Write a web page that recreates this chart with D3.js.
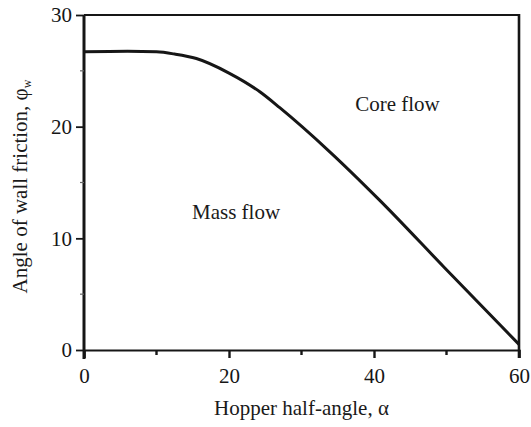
<!DOCTYPE html>
<html>
<head>
<meta charset="utf-8">
<script src="https://cdn.jsdelivr.net/npm/d3@7"></script>
<style>
  html, body { margin: 0; padding: 0; background: #fff; }
  svg { display: block; }
  text { font-family: "Liberation Serif", "Times New Roman", serif; fill: #1a1a1a; }
</style>
</head>
<body>
<svg id="chart" width="531" height="427"></svg>
<script>
// Limiting wall friction angle for mass flow vs. hopper half-angle
const halfAngle = [0, 6, 10, 12.5, 15.5, 20, 24.3, 27, 33.9, 40.8, 49.6, 60];
const wallFriction = [26.7, 26.75, 26.7, 26.5, 26.1, 24.8, 23.1, 21.7, 17.75, 13.4, 7.46, 0.5];

const xMajorTicks = [0, 20, 40, 60];
const xMinorTicks = [10, 30, 50];
const yMajorTicks = [0, 10, 20, 30];
const yMinorTicks = [5, 15, 25];

const regionLabels = ["Core flow", "Mass flow"];
const regionPos = [[37.4, 21.4], [14.9, 11.7]];

const xTitle = "Hopper half-angle, \u03b1";
const yTitle = "Angle of wall friction, \u03c6";
const yTitleSub = "w";

const svg = d3.select("#chart");
const x = d3.scaleLinear().domain([0, 60]).range([84, 519]);
const y = d3.scaleLinear().domain([0, 30]).range([350, 15]);

const ink = "#161616";

// frame: top and right edges
svg.append("line").attr("x1", x(0)).attr("x2", x(60)).attr("y1", y(30)).attr("y2", y(30))
  .attr("stroke", ink).attr("stroke-width", 1.8);
svg.append("line").attr("x1", x(60)).attr("x2", x(60)).attr("y1", y(30) - 1).attr("y2", y(0) + 8)
  .attr("stroke", ink).attr("stroke-width", 2.6);

// bottom axis
const xAxis = d3.axisBottom(x).tickValues(xMajorTicks).tickSize(8).tickPadding(10).tickFormat(d3.format("d"));
const gx = svg.append("g").attr("transform", `translate(0,${y(0)})`).call(xAxis);
gx.select(".domain").attr("stroke", ink).attr("stroke-width", 2);
gx.selectAll(".tick line").attr("stroke", ink).attr("stroke-width", 2.4);
gx.selectAll(".tick text").attr("font-size", 21).style("fill", ink);
gx.selectAll(".minor").data(xMinorTicks).enter().append("line").attr("class", "minor")
  .attr("x1", d => x(d)).attr("x2", d => x(d)).attr("y1", 0).attr("y2", 5)
  .attr("stroke", ink).attr("stroke-width", 2.4);

// left axis
const yAxis = d3.axisLeft(y).tickValues(yMajorTicks).tickSize(8).tickPadding(4).tickFormat(d3.format("d"));
const gy = svg.append("g").attr("transform", `translate(${x(0)},0)`).call(yAxis);
gy.select(".domain").attr("stroke", ink).attr("stroke-width", 3).attr("d", `M0,${y(30)}V${y(0) + 9}`);
gy.selectAll(".tick line").attr("stroke", ink).attr("stroke-width", 1.8);
gy.selectAll(".tick text").attr("font-size", 21).style("fill", ink);
gy.selectAll(".minor").data(yMinorTicks).enter().append("line").attr("class", "minor")
  .attr("x1", -4).attr("x2", 0).attr("y1", d => y(d)).attr("y2", d => y(d))
  .attr("stroke", "#666").attr("stroke-width", 1.2);

// boundary curve
const pts = halfAngle.map((a, i) => [a, wallFriction[i]]);
svg.append("path").datum(pts)
  .attr("fill", "none").attr("stroke", ink).attr("stroke-width", 3)
  .attr("d", d3.line().x(d => x(d[0])).y(d => y(d[1])).curve(d3.curveMonotoneX));

// region labels
svg.selectAll(".region").data(regionLabels).enter().append("text").attr("class", "region")
  .attr("x", (d, i) => x(regionPos[i][0])).attr("y", (d, i) => y(regionPos[i][1]))
  .attr("font-size", 21).text(d => d);

// axis titles
svg.append("text").attr("x", (x(0) + x(60)) / 2 + 0).attr("y", 415)
  .attr("text-anchor", "middle").attr("font-size", 21).text(xTitle);

const yt = svg.append("text").attr("transform", `translate(27,${(y(0) + y(30)) / 2 + 4}) rotate(-90)`)
  .attr("text-anchor", "middle").attr("font-size", 21);
yt.append("tspan").text(yTitle);
yt.append("tspan").attr("font-size", 12).attr("dy", 4).text(yTitleSub);
</script>
</body>
</html>
